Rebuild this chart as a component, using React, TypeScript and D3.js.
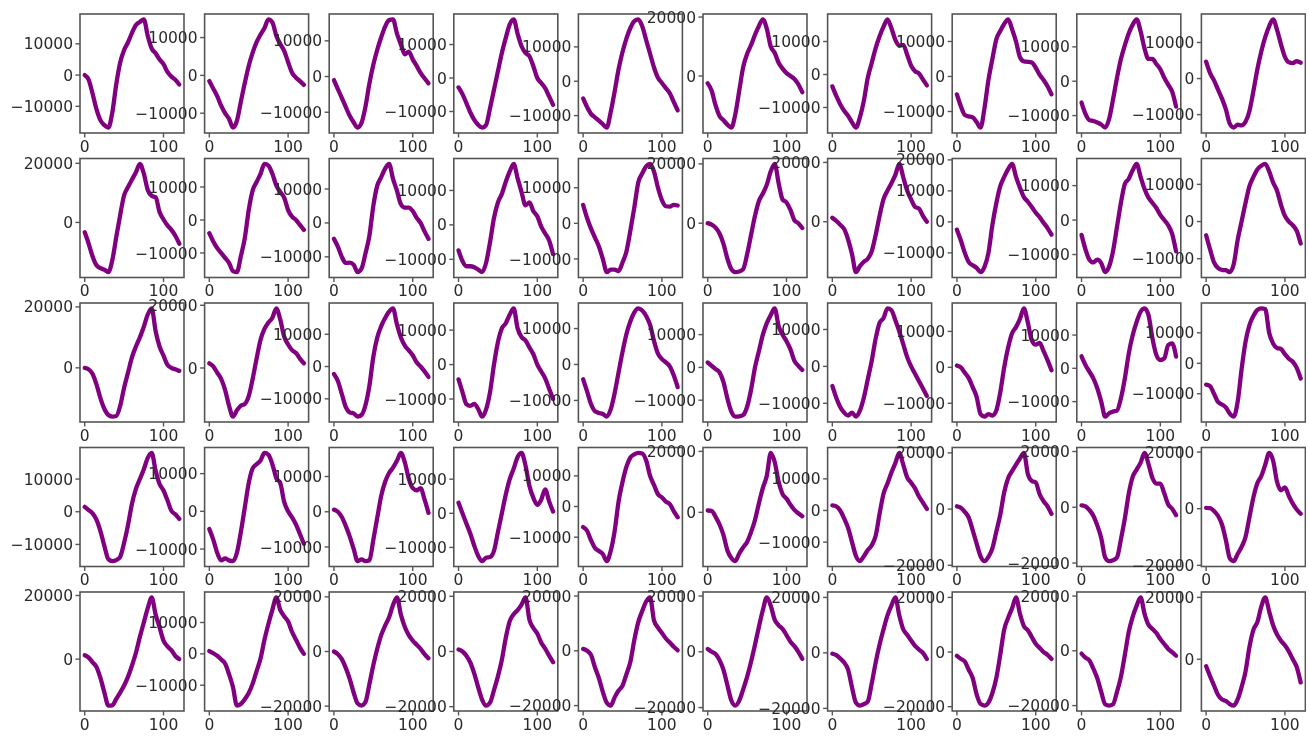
import React from "react";
import * as d3 from "d3";

// sample positions along the x axis (same for every panel)
const sampleX = [0, 5, 10, 15, 20, 25, 30, 35, 40, 45, 50, 55, 60, 65, 70, 75, 80, 85, 90, 95, 100, 105, 110, 115, 120];
const xTicks = [0, 100];

// one list of 10 series per row of the grid
const row1 = [
  [0, -1500, -6000, -11000, -14500, -16000, -16800, -12000, -3000, 4000, 8000, 10500, 13500, 16000, 17000, 17800, 12500, 8500, 7000, 5000, 3500, 1000, -500, -1500, -3000],
  [-1500, -3500, -5500, -8000, -10000, -11500, -13800, -12000, -7000, -2000, 2500, 6000, 8800, 10800, 12500, 14800, 14000, 10500, 8300, 6500, 3500, 700, -600, -1500, -2500],
  [-1000, -3500, -6000, -8500, -11000, -12800, -14300, -13000, -8500, -2000, 3300, 7500, 11000, 14000, 15800, 16000, 12000, 9000, 6200, 7000, 4800, 3000, 1000, -500, -1900],
  [-2800, -4800, -7500, -10300, -12500, -14000, -14800, -14000, -9000, -3500, 2000, 7500, 12000, 16000, 17500, 13200, 9500, 7500, 6500, 3500, 0, -1500, -3000, -5500, -8000],
  [-5000, -7500, -9500, -10500, -11500, -12500, -13500, -9000, -3000, 3500, 8500, 12500, 15500, 17500, 18000, 16000, 12000, 8000, 4000, 1000, -500, -2000, -3500, -6000, -8500],
  [-2500, -5000, -10000, -13600, -15000, -16500, -17500, -13000, -5000, 3000, 7500, 10500, 14000, 17000, 19200, 16000, 10000, 7900, 4500, 2500, 1000, 0, -1000, -2800, -5500],
  [-3600, -6500, -9000, -11000, -12500, -14500, -16100, -13000, -8000, -1000, 3500, 8000, 11600, 14500, 16700, 14000, 10500, 8700, 9000, 6000, 2700, 1000, 300, -1500, -3300],
  [-5100, -8500, -11000, -11400, -11700, -13000, -14600, -9000, -1000, 5000, 10600, 13000, 15000, 16300, 13500, 10000, 5500, 4300, 4200, 4000, 2500, 500, -1000, -2800, -5100],
  [-6200, -9500, -11300, -11600, -12000, -12600, -13500, -11000, -5300, 1000, 6500, 10500, 14000, 16500, 18000, 14500, 9500, 6500, 6500, 5000, 3500, 1000, -1000, -3000, -7400],
  [4700, 1500, -500, -3000, -5500, -8500, -12500, -13600, -12800, -13000, -12000, -9000, -3500, 2500, 7500, 11500, 14500, 16400, 13500, 9500, 6000, 4500, 4300, 4800, 4400],
];
const row2 = [
  [-3300, -7200, -11500, -14500, -15500, -16000, -16800, -12800, -5000, 2500, 9200, 12000, 14500, 17000, 19800, 16500, 11000, 9000, 8500, 3500, 1000, -1000, -2500, -4500, -7200],
  [-4000, -6500, -8500, -10000, -11500, -13000, -15500, -15800, -11000, -5500, 3000, 9000, 11500, 14000, 17000, 16500, 14000, 10500, 8500, 6800, 3000, 1000, 0, -1500, -3000],
  [-4700, -7000, -10000, -11800, -11700, -12300, -14500, -13500, -9000, -3800, 5000, 11000, 13500, 16000, 17400, 13000, 9500, 5500, 4500, 4500, 3500, 1500, 0, -2500, -4700],
  [-7400, -10500, -12000, -12000, -12300, -13000, -13700, -11000, -5000, 2000, 6500, 9000, 12500, 15500, 17700, 13500, 9500, 5700, 6500, 4000, 2500, -500, -2500, -4500, -8500],
  [5200, 1500, -1500, -4000, -6500, -10000, -13700, -13000, -13000, -13400, -11000, -7900, -2000, 4500, 11500, 14000, 16000, 16700, 14500, 10000, 6500, 4800, 4700, 5200, 5000],
  [0, -500, -1500, -3500, -7000, -12000, -15500, -16500, -16300, -15500, -10500, -4000, 2500, 7500, 10000, 13000, 17500, 20000, 13500, 8000, 7000, 4500, 1000, 0, -1600],
  [1300, 300, -1000, -2500, -6000, -11000, -17000, -15000, -13500, -12500, -10000, -4500, 2000, 7600, 10500, 13000, 15800, 19500, 15000, 10500, 7500, 5000, 4400, 2000, 0],
  [-2500, -6000, -10000, -13000, -14000, -14800, -16200, -14500, -10000, -1000, 6000, 11500, 14500, 17000, 18700, 14500, 11000, 8000, 6500, 4800, 3000, 1500, -300, -2000, -4100],
  [-4300, -8500, -11500, -12300, -11500, -12500, -15100, -13500, -9000, -2000, 5000, 10500, 12000, 14500, 16300, 12500, 9000, 6500, 5000, 3500, 1500, 0, -1500, -4000, -9100],
  [-3700, -7500, -11000, -12500, -13000, -13100, -13600, -11500, -5000, 0, 5000, 9500, 12000, 14000, 15000, 15500, 13500, 10500, 8300, 4500, 1500, 0, -1000, -2500, -5900],
];
const row3 = [
  [0, -500, -2000, -5500, -10000, -13500, -15500, -16000, -15800, -12500, -6500, -1500, 3500, 7000, 10000, 13500, 17500, 19500, 12000, 7000, 4000, 1000, 0, -500, -1000],
  [1500, 500, -1500, -3500, -7000, -12000, -15500, -13500, -12000, -11500, -9000, -3500, 3000, 9000, 12500, 14500, 16000, 19000, 15500, 10000, 7500, 5700, 4800, 3000, 1500],
  [-2300, -4500, -8500, -12500, -14200, -14500, -15500, -15000, -12000, -6000, 3000, 9000, 12500, 15000, 17000, 18000, 13000, 9000, 6500, 5000, 3500, 1300, 0, -1500, -3200],
  [-4300, -8000, -11500, -12000, -11400, -12900, -15100, -13000, -8000, 0, 6500, 10500, 12000, 14500, 16300, 10500, 8000, 7000, 5000, 3000, 0, -2000, -4000, -7000, -10000],
  [-4100, -7500, -11000, -13000, -13500, -13800, -14500, -12500, -8000, -2200, 3500, 8500, 12000, 14500, 15600, 15000, 13500, 11000, 6500, 3000, 1500, 600, -500, -3000, -6300],
  [1500, 500, -500, -1500, -4500, -9500, -13500, -15000, -14900, -14500, -12000, -6800, 0, 5000, 10000, 13500, 16000, 18000, 12600, 10000, 8000, 5500, 2000, 500, -800],
  [-5300, -8500, -11000, -12500, -13300, -12500, -13600, -12000, -8500, -3500, 1500, 7500, 11800, 13100, 15700, 15200, 12500, 9500, 6000, 2500, 0, -2000, -4000, -6000, -8000],
  [500, 0, -1500, -3000, -5500, -8200, -13000, -13700, -13000, -13400, -12000, -7000, 0, 5500, 9500, 11200, 13500, 16400, 12500, 7500, 6300, 6800, 4500, 2000, -800],
  [3600, 1000, -1000, -3000, -6000, -10000, -14500, -13500, -13000, -12700, -9000, -3000, 4500, 10000, 14000, 17000, 18000, 16000, 9000, 4000, 2500, 3000, 7000, 7500, 3500],
  [-7000, -7500, -10000, -12700, -13500, -14500, -16500, -17500, -12700, -2000, 7000, 12500, 15500, 17500, 18000, 17800, 10000, 6500, 5000, 4700, 3000, 1500, 500, -1500, -5000],
];
const row4 = [
  [1500, 500, -500, -2500, -6000, -10500, -14500, -15100, -14800, -13800, -9500, -4000, 2500, 7000, 10000, 13000, 16500, 18000, 12500, 8500, 6500, 3500, 300, -800, -2200],
  [-4700, -7500, -11000, -13000, -12500, -13000, -13200, -11000, -5500, 1000, 7500, 11400, 12500, 13500, 15500, 15000, 12500, 8800, 7500, 2500, 0, -1600, -3500, -6000, -8600],
  [600, 0, -1500, -4000, -7000, -10500, -14000, -13500, -14000, -13800, -8000, -1700, 4500, 8500, 11000, 12500, 14500, 16700, 14000, 9400, 6700, 6100, 6700, 3500, -300],
  [3100, 0, -3000, -6000, -9500, -12500, -14000, -13000, -12800, -11000, -5500, 0, 5500, 10000, 13100, 16500, 17700, 14000, 8000, 4500, 2500, 4000, 7000, 3500, 500],
  [-6700, -7900, -11000, -13500, -14500, -15500, -17800, -14500, -8000, 1600, 8000, 13000, 16000, 17000, 17500, 17300, 15000, 10000, 7000, 4000, 3000, 1600, 800, -1500, -3500],
  [600, 500, -1500, -4000, -7500, -12500, -15000, -16000, -13500, -11500, -9700, -6500, -2500, 3000, 8000, 12000, 19500, 16500, 10000, 6000, 4500, 2500, 800, -300, -1300],
  [1600, 1300, 0, -2500, -5500, -10000, -14400, -16000, -14500, -12500, -11000, -8000, -1000, 5300, 8500, 12000, 15000, 18200, 14500, 10500, 8800, 7000, 4400, 2500, 500],
  [1000, 500, -1000, -3000, -7500, -12300, -16800, -18500, -17000, -14000, -8000, -2000, 6000, 11000, 13500, 15800, 18000, 20000, 12500, 10000, 9500, 5300, 2800, 1000, -1700],
  [700, 300, -1000, -3000, -6500, -11000, -18000, -19300, -19000, -18000, -11500, -4000, 5000, 11000, 13500, 16000, 19500, 15500, 10500, 8500, 8500, 5000, 1000, -500, -2800],
  [300, 200, -800, -2500, -5500, -11000, -17500, -18500, -16000, -13500, -10000, -3000, 4000, 9000, 11500, 15500, 19700, 17000, 9500, 6500, 7500, 4500, 1800, -300, -1800],
];
const row5 = [
  [1200, 500, -1000, -2500, -6000, -10500, -14600, -14500, -12500, -10500, -8300, -5500, -2000, 2000, 7000, 11500, 16000, 19400, 14000, 10000, 5800, 4000, 2800, 1000, 0],
  [900, 200, -600, -1800, -3100, -6500, -10600, -16500, -16000, -14500, -12500, -9500, -5500, -1500, 4500, 9500, 14000, 18000, 14000, 12000, 10300, 7000, 4500, 2000, 0],
  [0, -1000, -2800, -6000, -10000, -15000, -19000, -19800, -18500, -12000, -5000, 1000, 6000, 9500, 12500, 17000, 19800, 13500, 9000, 6000, 4000, 2500, 1000, -1000, -2500],
  [700, 0, -1500, -4000, -8000, -13000, -17500, -19600, -18500, -14000, -9000, -3000, 5000, 11000, 13500, 15000, 17000, 19600, 11500, 8500, 6500, 3200, 1000, -1500, -3900],
  [700, 0, -1500, -6000, -10000, -15000, -19000, -20000, -17000, -14500, -12700, -8500, -4000, 4000, 10500, 14500, 18000, 19500, 11000, 8500, 6500, 4500, 3000, 1500, 200],
  [1000, 0, -800, -3000, -6500, -12000, -17500, -19300, -17500, -13500, -9000, -3600, 2500, 9000, 15000, 19500, 16500, 11500, 9500, 8200, 6000, 3600, 2000, 0, -2500],
  [-300, -800, -2000, -3500, -6000, -12500, -18000, -19000, -18500, -17500, -11000, -3500, 3000, 8500, 13500, 17000, 20000, 13500, 8500, 6500, 4500, 2500, 1200, 0, -2200],
  [-1400, -2500, -3500, -6500, -9500, -15500, -19000, -19600, -18500, -15000, -9500, -1000, 8200, 12500, 16000, 20000, 14000, 9500, 8000, 5500, 3000, 1500, 0, -1000, -2500],
  [-1000, -2500, -3500, -6500, -10000, -15000, -19500, -20000, -19500, -15000, -9500, -1500, 7000, 12500, 16500, 19500, 13500, 9500, 8000, 6500, 4300, 2500, 700, -500, -1800],
  [-2300, -5500, -8500, -11500, -13000, -13500, -14500, -15000, -13000, -9000, -4000, 4000, 9500, 12000, 17000, 20000, 15500, 11000, 8000, 6000, 4500, 2500, 0, -2500, -7500],
];

// y tick spacing chosen for each panel
const stepsRow1 = [10000, 10000, 10000, 10000, 10000, 20000, 10000, 10000, 10000, 10000];
const stepsRow2 = [20000, 10000, 10000, 10000, 10000, 20000, 20000, 10000, 10000, 10000];
const stepsRow3 = [20000, 20000, 10000, 10000, 10000, 10000, 10000, 10000, 10000, 10000];
const stepsRow4 = [10000, 10000, 10000, 10000, 10000, 20000, 10000, 20000, 20000, 20000];
const stepsRow5 = [20000, 10000, 20000, 20000, 20000, 20000, 20000, 20000, 20000, 20000];

const rows = [row1, row2, row3, row4, row5];
const steps = [stepsRow1, stepsRow2, stepsRow3, stepsRow4, stepsRow5];

const W = 1309;
const H = 737;
const LEFT0 = 80;
const COL_STEP = 124.6;
const PW = 104;
const TOP0 = 14;
const ROW_STEP = 144.5;
const PH = 119;
const FONT = "DejaVu Sans, Liberation Sans, sans-serif";
const FS = 15.5;
const AXIS = "#555";
const TEXT = "#2a2a2a";

const fmt = (v: number) => (v < 0 ? "\u2212" + Math.abs(v) : String(v));

function Panel({ values, step, left, top, id }: { values: number[]; step: number; left: number; top: number; id: string }) {
  const [x0, x1] = d3.extent(sampleX) as [number, number];
  const xp = (x1 - x0) * 0.05;
  const x = d3.scaleLinear().domain([x0 - xp, x1 + xp]).range([left, left + PW]);
  const [mn, mx] = d3.extent(values) as [number, number];
  const yp = (mx - mn) * 0.05;
  const y = d3.scaleLinear().domain([mn - yp, mx + yp]).range([top + PH, top]);
  const lo = Math.ceil((mn - yp) / step) * step;
  const yTicks = d3.range(lo, mx + yp + 1e-6, step);
  const line = d3
    .line<number>()
    .x((_, i) => x(sampleX[i]))
    .y((d) => y(d))
    .curve(d3.curveMonotoneX);
  return (
    <g>
      <clipPath id={id}>
        <rect x={left} y={top} width={PW} height={PH} />
      </clipPath>
      <rect x={left} y={top} width={PW} height={PH} fill="#fff" />
      {yTicks.map((t) => (
        <g key={"y" + t}>
          <line x1={left - 4.5} x2={left} y1={y(t)} y2={y(t)} stroke={AXIS} strokeWidth={1.4} />
          <text x={left - 7} y={y(t)} dy="0.36em" textAnchor="end" fontFamily={FONT} fontSize={FS} fill={TEXT}>
            {fmt(t)}
          </text>
        </g>
      ))}
      {xTicks.map((t) => (
        <g key={"x" + t}>
          <line x1={x(t)} x2={x(t)} y1={top + PH} y2={top + PH + 4.5} stroke={AXIS} strokeWidth={1.4} />
          <text x={x(t)} y={top + PH + 7} dy="0.76em" textAnchor="middle" fontFamily={FONT} fontSize={FS} fill={TEXT}>
            {fmt(t)}
          </text>
        </g>
      ))}
      <path
        d={line(values) || ""}
        fill="none"
        stroke="#800080"
        strokeWidth={4.3}
        strokeLinejoin="round"
        strokeLinecap="round"
        clipPath={`url(#${id})`}
      />
      <rect x={left} y={top} width={PW} height={PH} fill="none" stroke={AXIS} strokeWidth={1.6} />
    </g>
  );
}

export default function App() {
  return (
    <svg
      width={W}
      height={H}
      viewBox={`0 0 ${W} ${H}`}
      style={{ position: "fixed", left: 0, top: 0, background: "#fff" }}
    >
      <defs>
        <filter id="soft" x="0" y="0" width="100%" height="100%">
          <feGaussianBlur stdDeviation="0.55" />
        </filter>
      </defs>
      <rect width={W} height={H} fill="#fff" />
      <g filter="url(#soft)">
        {rows.map((row, r) =>
          row.map((values, c) => (
            <Panel
              key={`${r}-${c}`}
              id={`clip-${r}-${c}`}
              values={values}
              step={steps[r][c]}
              left={LEFT0 + c * COL_STEP}
              top={TOP0 + r * ROW_STEP}
            />
          ))
        )}
      </g>
    </svg>
  );
}
